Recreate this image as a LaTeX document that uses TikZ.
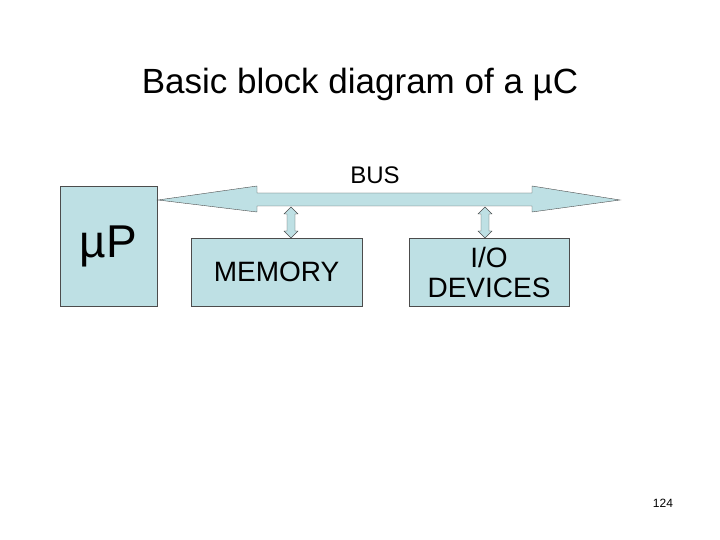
\documentclass[tikz,border=0pt]{standalone}
\usepackage{fontspec}
\setmainfont{Liberation Sans}
\definecolor{boxfill}{RGB}{190,224,228}
\begin{document}
\begin{tikzpicture}[x=1pt,y=-1pt]
    % --- styles ---
    \tikzset{block/.style={draw=black!70,fill=boxfill,inner sep=0pt},
             busshape/.style={draw=black!70,fill=boxfill,line join=miter}}
    \useasboundingbox (0,0) rectangle (720,540);

    % title
    \node[font=\fontsize{35}{40}\selectfont] (title) at (360,84) {Basic block diagram of a µC};

    % blocks
    \node[block,minimum width=97,minimum height=120,font=\fontsize{46}{50}\selectfont] (up) at (108.5,246) {µP};
    \node[block,minimum width=171,minimum height=68,font=\fontsize{28}{32}\selectfont] (mem) at (276.5,272) {MEMORY};
    \node[block,minimum width=160,minimum height=68,align=center,font=\fontsize{28}{30}\selectfont] (io) at (489,272) {I/O\\DEVICES};

    % bus (double headed arrow)
    \draw[busshape] (158,200) -- (257,186) -- (257,193) -- (532,193) -- (532,186)
      -- (620,200) -- (532,212) -- (532,206) -- (257,206) -- (257,212) -- cycle;
    \node[font=\fontsize{24}{28}\selectfont] (bus) at (375,175) {BUS};

    % taps from bus to memory and i/o
    \foreach \x in {291,485}
      \draw[busshape] (\x,207) -- (\x+7,214) -- (\x+4,214) -- (\x+4,231) -- (\x+7,231)
        -- (\x,238) -- (\x-7,231) -- (\x-4,231) -- (\x-4,214) -- (\x-7,214) -- cycle;

    % page number
    \node[font=\fontsize{12}{14}\selectfont] (page) at (663,503) {124};
\end{tikzpicture}
\end{document}
